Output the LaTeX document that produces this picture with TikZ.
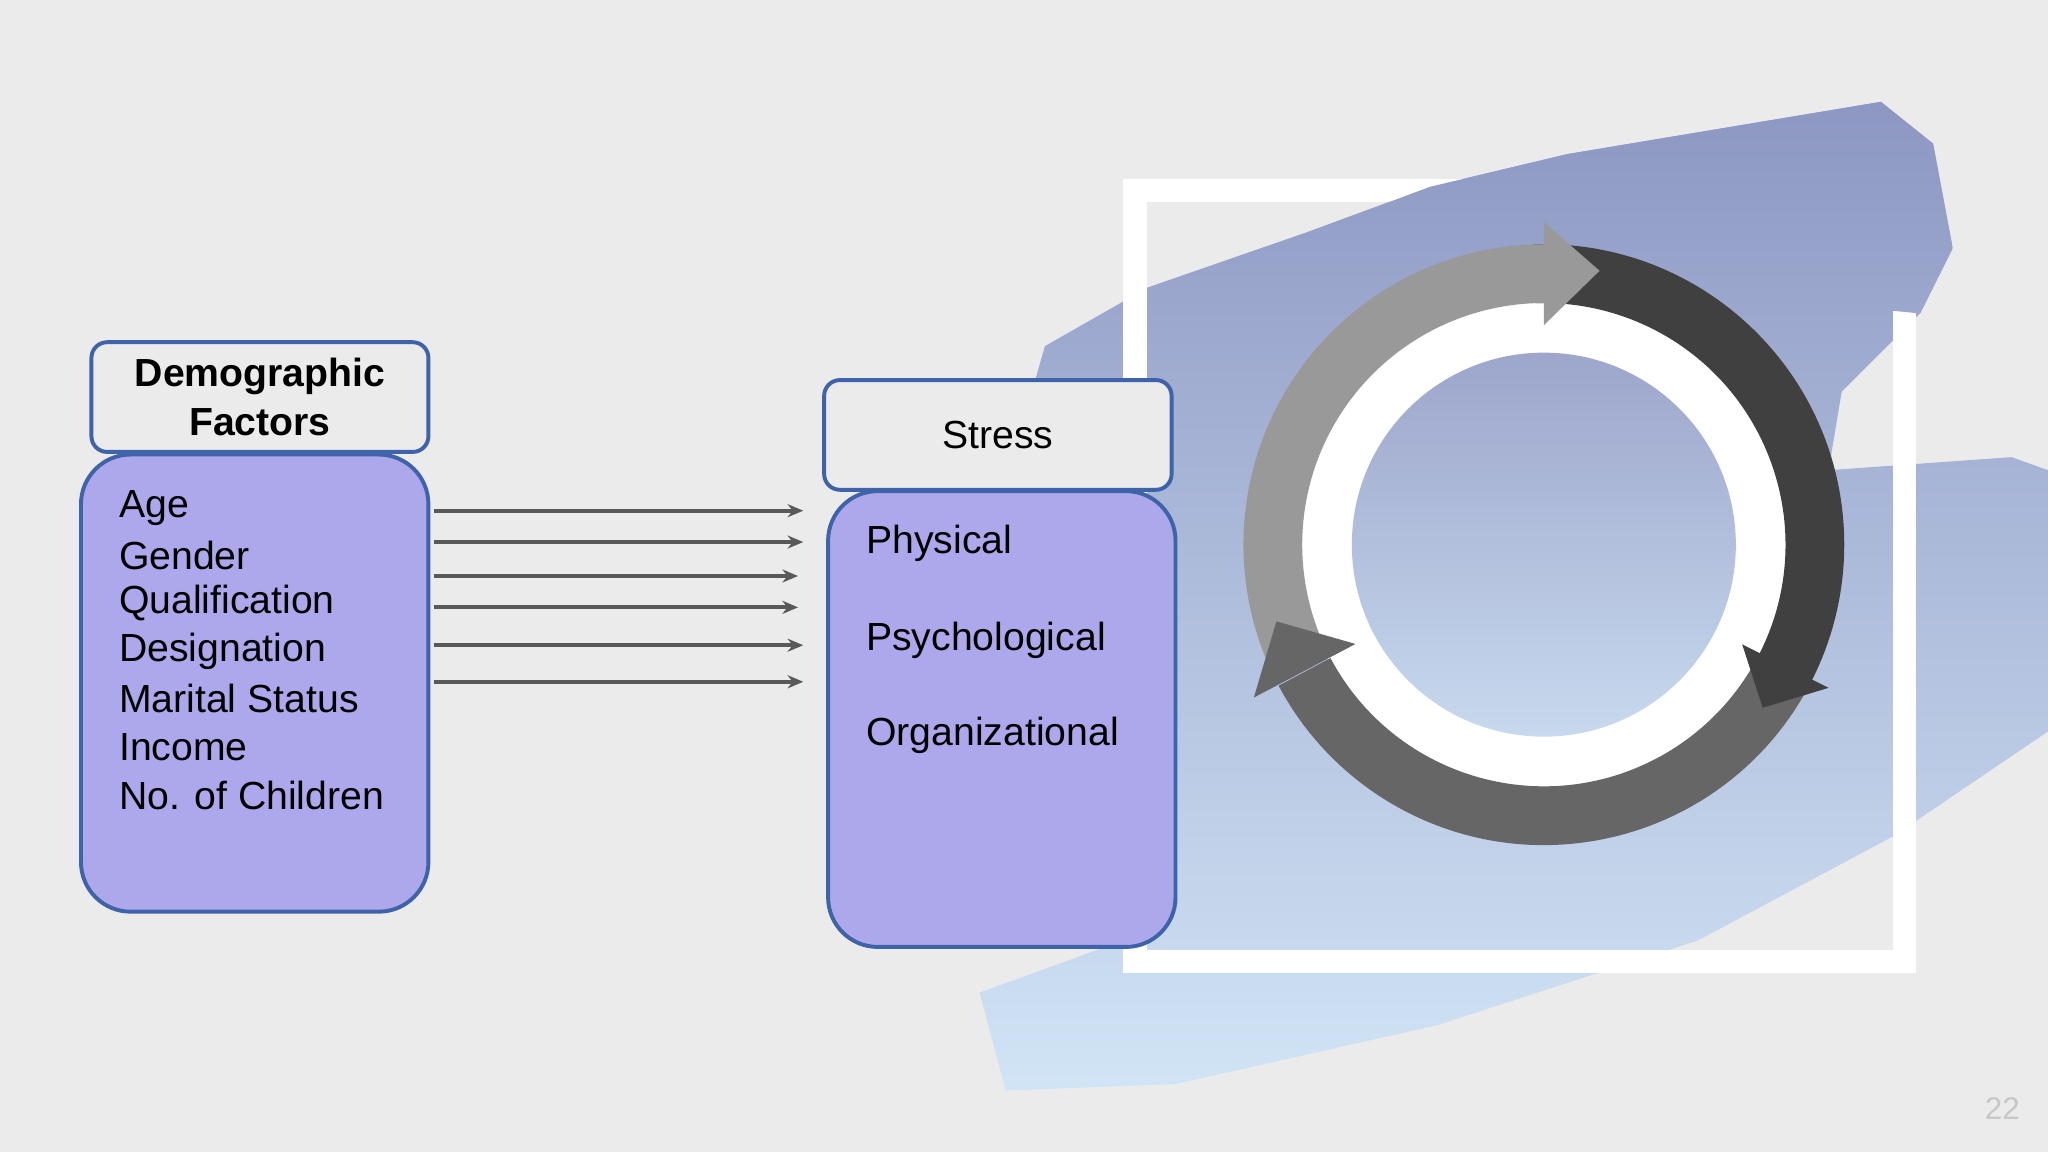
\documentclass[tikz,border=0pt]{standalone}
\usepackage{fontspec}
\setmainfont{Liberation Sans}
\usetikzlibrary{arrows.meta}
\definecolor{bg}{HTML}{EBEBEB}
\definecolor{bord}{HTML}{3F63A8}
\definecolor{lav}{HTML}{ADA8EC}
\definecolor{brtop}{HTML}{8C96C2}
\definecolor{brbot}{HTML}{D2E5F6}
\tikzset{
 hdr/.style={draw=bord,line width=3pt,fill=bg,rounded corners=12pt,inner sep=0pt},
 body/.style={draw=bord,line width=3pt,fill=lav,rounded corners=38pt},
 item/.style={anchor=west,font=\fontsize{30}{30}\selectfont,inner sep=0pt},
 conn/.style={draw=black!65,line width=3pt,-{Stealth[length=12pt,width=10pt]}}
}
\newcommand{\brushshade}{\shade[top color=brtop,bottom color=brbot] (740,-70) rectangle (1568,-840);}
\begin{document}
\begin{tikzpicture}[x=1pt,y=1pt]
\useasboundingbox (0,0) rectangle (1568,-882);
\fill[bg] (0,0) rectangle (1568,-882);
% brush stroke (under frame)
\begin{scope}
\clip (800,-265) -- (879,-220) -- (1000,-178) -- (1095,-143) -- (1200,-118) -- (1440,-78) -- (1480,-110) -- (1495,-190) -- (1470,-240)
 -- (1410,-300) -- (1400,-360) -- (1540,-350) -- (1568,-360) -- (1568,-560) -- (1450,-640)
 -- (1300,-720) -- (1100,-785) -- (900,-830) -- (770,-835) -- (750,-760) -- (860,-720)
 -- (860,-560) -- (800,-420) -- (790,-300) -- cycle;
\brushshade
\end{scope}
% white frame
\draw[white,line width=18pt] (869,-146) rectangle (1458,-736);
% brush over frame top right
\begin{scope}
\clip (1095,-143) -- (1200,-118) -- (1440,-78) -- (1480,-110) -- (1495,-190) -- (1470,-240)
 -- (1430,-236) -- (1300,-210) -- (1060,-156) -- cycle;
\brushshade
\end{scope}
% cycle
\begin{scope}[shift={(1182,-417)}]
 \fill[white] (0,0) circle[radius=187];
 \shade[top color=brtop!85!white,bottom color=brbot!85!brtop] (0,0) circle[radius=147];
 % bodies
 \fill[black!60] (-30:230) arc[start angle=-30,end angle=-152,radius=230] -- (208:185) arc[start angle=208,end angle=330,radius=185] -- cycle;
 \fill[black!75] (92:230) arc[start angle=92,end angle=-27,radius=230] -- (-27:185) arc[start angle=-27,end angle=92,radius=185] -- cycle;
 \fill[black!40] (204:230) arc[start angle=204,end angle=90,radius=230] -- (90:185) arc[start angle=90,end angle=204,radius=185] -- cycle;
 % heads
 \fill[black!40] (90:168) -- (90:247) -- (78.5:214) -- cycle;
 \fill[black!75] (-26.7:170) -- (-26.7:244) -- (-36.7:209) -- cycle;
 \fill[black!60] (207.8:163) -- (207.8:251) -- (196:213) -- cycle;
\end{scope}
% left boxes
\node[hdr,minimum width=258pt,minimum height=84pt,align=center,font=\bfseries\fontsize{30}{37}\selectfont] (dem) at (199,-304) {Demographic\\Factors};
\draw[body] (62,-348) rectangle (328,-698);
\foreach \t/\y [count=\i] in {Age/389,Gender/425,Qualification/462,Designation/499,Marital Status/535,Income/572,No. of Children/609}
 \node[item] (d\i) at (91,-\y) {\t};
% right boxes
\node[hdr,minimum width=266pt,minimum height=84pt,font=\fontsize{30}{30}\selectfont] (str) at (764,-333) {Stress};
\draw[body] (634,-376) rectangle (900,-725);
\node[item] (s1) at (663,-416) {Physical};
\node[item] (s2) at (663,-490) {Psychological};
\node[item] (s3) at (663,-563) {Organizational};
% connectors
\foreach \y/\e [count=\i] in {391/615,415/615,441/611,465/611,494/615,522/615}{
 \coordinate (a\i) at (332,-\y);
 \coordinate (b\i) at (\e,-\y);
 \draw[conn] (a\i) -- (b\i);
}
\node[text=black!22,font=\fontsize{24}{24}\selectfont] (pg) at (1533,-849) {22};
\end{tikzpicture}
\end{document}
